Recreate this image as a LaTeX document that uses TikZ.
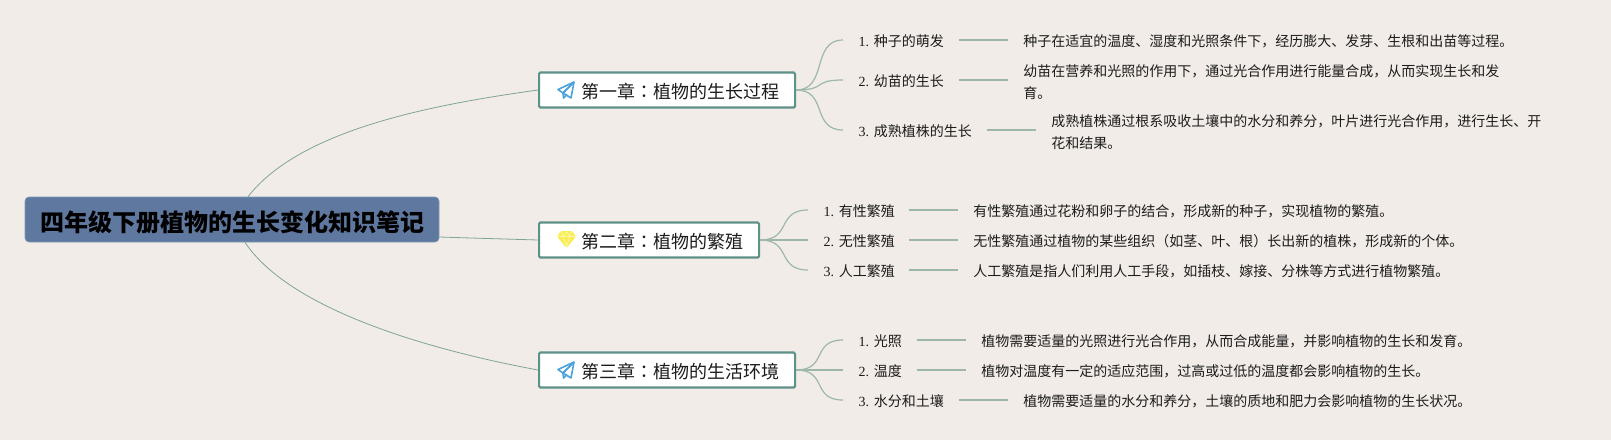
\documentclass[tikz,border=0pt]{standalone}
\usepackage{fontspec}
\setmainfont{Liberation Serif}
\newfontfamily\cjk{Noto Sans CJK SC}
\newfontfamily\cjktc{Noto Sans CJK TC}
\definecolor{bgc}{HTML}{F1ECE7}
\definecolor{rootc}{HTML}{5F789F}
\definecolor{rootb}{HTML}{7F9BB0}
\definecolor{boxb}{HTML}{5E9188}
\definecolor{thin}{HTML}{7FA598}
\definecolor{sub}{HTML}{9DB8AB}
\definecolor{txt}{HTML}{1C1C1C}
\definecolor{plane}{HTML}{4AA3DF}
\definecolor{gem}{HTML}{F8EE50}
\definecolor{gemline}{HTML}{FCF7A8}
\tikzset{
  x=0.75pt,y=-0.75pt,
  rootnode/.style={draw=rootb,line width=0.5pt,fill=rootc,rounded corners=3pt,minimum width=310.5pt,minimum height=33.75pt,inner sep=0pt,text=black,font=\cjk\bfseries\fontsize{18}{22}\selectfont},
  chapnode/.style={draw=boxb,line width=1.6pt,fill=white,rounded corners=1pt,minimum height=26.25pt,inner sep=0pt,anchor=west,align=left,text=txt,font=\cjk\fontsize{13.5}{16}\selectfont},
  labnode/.style={anchor=west,inner ysep=0pt,inner xsep=11.5pt,text=txt,font=\fontsize{10.5}{16}\selectfont,minimum height=15pt,align=left},
  detnode/.style={anchor=west,inner ysep=0pt,inner xsep=11.3pt,text=txt,font=\cjk\fontsize{10.5}{16}\selectfont,align=left},
  trunk/.style={draw=thin,line width=0.6pt},
  twig/.style={draw=sub,line width=0.9pt},
  leaf/.style={draw=sub,line width=1.3pt},
  planeicon/.style={draw=plane,line width=1.2pt,line join=round},
}
\newcommand{\dn}[2]{\raisebox{-#1pt}[\height][\depth]{#2}}
\newcommand{\cn}[1]{{\cjk #1}}
\newcommand{\colonmark}{{\cjktc ：}}
\newcommand{\planeat}[2]{%
  \begin{scope}[shift={(#1,#2)}]
    \draw[planeicon] (16,0) -- (0,7.5) -- (5,11) -- cycle;
    \draw[planeicon] (16,0) -- (5,11) -- (5.5,16) -- (9,12.5);
    \draw[planeicon] (16,0) -- (13,16) -- (5,11);
  \end{scope}}
\newcommand{\gemat}[2]{%
  \begin{scope}[shift={(#1,#2)}]
    \fill[gem,rounded corners=0.8pt] (4,0) -- (15,0) -- (19,5.5) -- (9.5,17) -- (0,5.5) -- cycle;
    \draw[gemline,line width=0.6pt] (1,5.5) -- (18,5.5) (4.5,1) -- (6,5.5) -- (9.5,15) -- (13,5.5) -- (14.5,1) (6,5.5) -- (9.5,1) -- (13,5.5);
  \end{scope}}
\begin{document}
\begin{tikzpicture}
\useasboundingbox[fill=bgc] (0,0) rectangle (1611,440);

\node[rootnode] (root) at (232,219.5) {\hspace{1.5pt}\dn{2.2}{四年级下册植物的生长变化知识笔记}};

\node[chapnode,minimum width=192pt] (c1) at (538,90) {\hspace{19.5pt}\dn{0.8}{第一章\colonmark 植物的生长过程}};
\node[chapnode,minimum width=165pt] (c2) at (538,240) {\hspace{19.5pt}\dn{0.8}{第二章\colonmark 植物的繁殖}};
\node[chapnode,minimum width=192pt] (c3) at (538,370) {\hspace{19.5pt}\dn{0.8}{第三章\colonmark 植物的生活环境}};

\planeat{558}{82}
\gemat{557}{231}
\planeat{558}{362}

% chapter 1
\node[labnode,text width=63.25pt] (a1) at (843,40) {\dn{0.8}{1.~\cn{种子的萌发}}};
\node[labnode,text width=63.25pt] (a2) at (843,80) {\dn{0.8}{2.~\cn{幼苗的生长}}};
\node[labnode,text width=84.25pt] (a3) at (843,130) {\dn{0.8}{3.~\cn{成熟植株的生长}}};
\node[detnode] (d1) at (1008,41) {种子在适宜的温度、湿度和光照条件下，经历膨大、发芽、生根和出苗等过程。};
\node[detnode] (d2) at (1008,82) {幼苗在营养和光照的作用下，通过光合作用进行能量合成，从而实现生长和发\\育。};
\node[detnode] (d3) at (1036,132) {成熟植株通过根系吸收土壤中的水分和养分，叶片进行光合作用，进行生长、开\\花和结果。};

% chapter 2
\node[labnode,text width=52pt] (b1) at (808,210) {\dn{0.8}{1.~\cn{有性繁殖}}};
\node[labnode,text width=52pt] (b2) at (808,240) {\dn{0.8}{2.~\cn{无性繁殖}}};
\node[labnode,text width=52pt] (b3) at (808,270) {\dn{0.8}{3.~\cn{人工繁殖}}};
\node[detnode] (e1) at (958,211) {有性繁殖通过花粉和卵子的结合，形成新的种子，实现植物的繁殖。};
\node[detnode] (e2) at (958,241) {无性繁殖通过植物的某些组织（如茎、叶、根）长出新的植株，形成新的个体。};
\node[detnode] (e3) at (958,271) {人工繁殖是指人们利用人工手段，如插枝、嫁接、分株等方式进行植物繁殖。};

% chapter 3
\node[labnode,text width=31.75pt] (f1) at (843,340) {\dn{0.8}{1.~\cn{光照}}};
\node[labnode,text width=31.75pt] (f2) at (843,370) {\dn{0.8}{2.~\cn{温度}}};
\node[labnode,text width=63.25pt] (f3) at (843,400) {\dn{0.8}{3.~\cn{水分和土壤}}};
\node[detnode] (g1) at (966,341) {植物需要适量的光照进行光合作用，从而合成能量，并影响植物的生长和发育。};
\node[detnode] (g2) at (966,371) {植物对温度有一定的适应范围，过高或过低的温度都会影响植物的生长。};
\node[detnode] (g3) at (1008,401) {植物需要适量的水分和养分，土壤的质地和肥力会影响植物的生长状况。};

% root connectors
\draw[trunk] (root.north) ++(16,0) .. controls (300,130) and (430,105) .. (c1.west);
\draw[trunk] (root.east |- 0,237) .. controls (470,238) and (505,239) .. (c2.west);
\draw[trunk] (root.south) ++(13,0) .. controls (290,310) and (430,350) .. (c3.west);

% branches
\foreach \c/\t in {c1/a1,c1/a2,c1/a3,c2/b1,c2/b2,c2/b3,c3/f1,c3/f2,c3/f3}{
  \draw[twig] (\c.east) .. controls ([xshift=24pt]\c.east) and ([xshift=-24pt]\t.west) .. (\t.west);
}
% leaves
\foreach \l/\d in {a1/d1,a2/d2,a3/d3,b1/e1,b2/e2,b3/e3,f1/g1,f2/g2,f3/g3}{
  \draw[leaf] (\l.east) -- (\l.east -| \d.west);
}
\end{tikzpicture}
\end{document}
